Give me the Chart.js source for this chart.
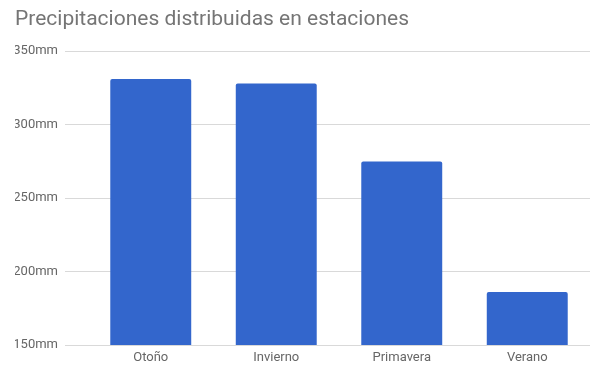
<!DOCTYPE html>
<html>
<head>
<meta charset="utf-8">
<script src="https://cdn.jsdelivr.net/npm/chart.js@4"></script>
<style>
  html, body { margin: 0; padding: 0; background: #fff; }
  #wrap { width: 601px; height: 365px; }
</style>
</head>
<body>
<div id="wrap"><canvas id="lluvia" width="601" height="365"></canvas></div>
<script>
// precipitacion por estacion (mm)
var estaciones = ['Otoño', 'Invierno', 'Primavera', 'Verano'];
var precipitacion = [331, 328, 275, 186];
var ejeMin = 150, ejeMax = 350, ejePaso = 50;

var myChart = new Chart(document.getElementById('lluvia'), {
    type: 'bar',
    data: {
        labels: estaciones,
        datasets: [{
            label: 'Precipitación',
            data: precipitacion,
            backgroundColor: '#3366cc',
            borderRadius: {topLeft: 2, topRight: 2},
            borderSkipped: 'bottom',
            categoryPercentage: 1,
            barPercentage: 0.645
        }]
    },
    options: {
        responsive: false,
        animation: false,
        layout: { padding: { left: 15, right: 11, top: 0, bottom: 0 } },
        plugins: {
            legend: { display: false },
            tooltip: { enabled: false },
            title: {
                display: true,
                text: 'Precipitaciones distribuidas en estaciones',
                align: 'start',
                color: '#757575',
                font: { family: 'Roboto', size: 21, weight: 'normal' },
                padding: { top: 7, bottom: 19 }
            }
        },
        scales: {
            x: {
                grid: { display: false, drawTicks: false },
                border: { display: false },
                ticks: {
                    color: '#666',
                    padding: 5,
                    font: { family: 'Roboto', size: 13 }
                },
                afterFit: function(scale) { scale.height = 20; }
            },
            y: {
                min: ejeMin,
                max: ejeMax,
                border: { display: false },
                grid: { color: '#d9d9d9', tickLength: 23, tickColor: '#d9d9d9' },
                ticks: {
                    stepSize: ejePaso,
                    color: '#666',
                    padding: 7,
                    font: { family: 'Roboto', size: 13 },
                    callback: function(v) { return v + 'mm'; }
                },
                afterFit: function(scale) { scale.width = 73; }
            }
        }
    }
});
</script>
</body>
</html>
